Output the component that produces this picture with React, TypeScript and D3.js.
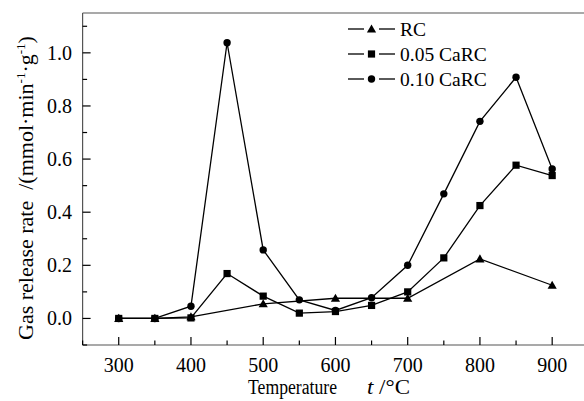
import React from "react";
import * as d3 from "d3";

const tempsRC = [300, 350, 400, 500, 600, 700, 800, 900];
const valuesRC = [0, 0, 0.006, 0.055, 0.076, 0.076, 0.224, 0.125];
const temps = [300, 350, 400, 450, 500, 550, 600, 650, 700, 750, 800, 850, 900];
const values005 = [0, 0, 0.002, 0.169, 0.084, 0.02, 0.026, 0.049, 0.1, 0.228, 0.425, 0.577, 0.538];
const values010 = [0, 0, 0.046, 1.038, 0.258, 0.07, 0.03, 0.078, 0.2, 0.469, 0.742, 0.908, 0.563];
const xTicks = [300, 400, 500, 600, 700, 800, 900];
const xMinor = [250, 350, 450, 550, 650, 750, 850];
const yTicks = [0, 0.2, 0.4, 0.6, 0.8, 1.0];
const yMinor = [-0.1, 0.1, 0.3, 0.5, 0.7, 0.9, 1.1];
const legendLabels = ["RC", "0.05 CaRC", "0.10 CaRC"];

const FONT = "'Liberation Serif', 'Times New Roman', serif";

function Marker({ type, x, y }: { type: string; x: number; y: number }) {
  if (type === "tri") {
    const s = 4.6;
    return <path d={`M${x},${y - s}L${x + s},${y + s * 0.75}L${x - s},${y + s * 0.75}Z`} fill="#000" />;
  }
  if (type === "sq") {
    return <rect x={x - 3.6} y={y - 3.6} width={7.2} height={7.2} fill="#000" />;
  }
  return <circle cx={x} cy={y} r={3.7} fill="#000" />;
}

export default function App() {
  const W = 584, H = 401;
  const left = 82.6, top = 13, bottom = 345;
  const x = d3.scaleLinear().domain([250, 950]).range([left, 588.3]);
  const y = d3.scaleLinear().domain([-0.1, 1.15]).range([bottom, top]);
  const line = d3.line<[number, number]>().x(d => x(d[0])).y(d => y(d[1]));
  const series = [
    { t: tempsRC, v: valuesRC, m: "tri" },
    { t: temps, v: values005, m: "sq" },
    { t: temps, v: values010, m: "circ" },
  ];
  const frame = "#555";
  return (
    <svg width={W} height={H} style={{ position: "absolute", left: 0, top: 0, background: "#fff" }}>
      <rect width={W} height={H} fill="#fff" />
      <g fill="none" stroke={frame} strokeWidth={1.2}>
        <line x1={left} x2={W + 10} y1={top} y2={top} />
        <line x1={left} x2={W + 10} y1={bottom} y2={bottom} />
        <line x1={left} x2={left} y1={top} y2={bottom} />
      </g>
      {xTicks.map(t => (
        <g key={"xt" + t}>
          <line x1={x(t)} x2={x(t)} y1={bottom} y2={bottom - 8} stroke="#000" strokeWidth={1.2} />
          <text x={x(t)} y={372} textAnchor="middle" fontFamily={FONT} fontSize={20}>{t}</text>
        </g>
      ))}
      {xMinor.map(t => (
        <line key={"xm" + t} x1={x(t)} x2={x(t)} y1={bottom} y2={bottom - 4.5} stroke="#000" strokeWidth={1.2} />
      ))}
      {yTicks.map(t => (
        <g key={"yt" + t}>
          <line x1={left} x2={left + 8} y1={y(t)} y2={y(t)} stroke="#000" strokeWidth={1.2} />
          <text x={72} y={y(t) + 6.8} textAnchor="end" fontFamily={FONT} fontSize={20}>{t.toFixed(1)}</text>
        </g>
      ))}
      {yMinor.map(t => (
        <line key={"ym" + t} x1={left} x2={left + 4.5} y1={y(t)} y2={y(t)} stroke="#000" strokeWidth={1.2} />
      ))}
      {series.map((s, i) => {
        const pts = s.t.map((t, j) => [t, s.v[j]] as [number, number]);
        return (
          <g key={"s" + i}>
            <path d={line(pts) || ""} fill="none" stroke="#000" strokeWidth={1.3} />
            {pts.map((p, j) => <Marker key={j} type={s.m} x={x(p[0])} y={y(p[1])} />)}
          </g>
        );
      })}
      {legendLabels.map((lab, i) => {
        const ly = 29 + i * 25;
        return (
          <g key={"lg" + i}>
            <line x1={348} x2={364} y1={ly} y2={ly} stroke="#000" strokeWidth={1.3} />
            <line x1={379} x2={395} y1={ly} y2={ly} stroke="#000" strokeWidth={1.3} />
            <Marker type={series[i].m} x={371.5} y={ly} />
            <text x={400} y={ly + 6.5} fontFamily={FONT} fontSize={19.5}>{lab}</text>
          </g>
        );
      })}
      <text transform="translate(33,340) rotate(-90)" textAnchor="start" fontFamily={FONT} fontSize={22}>
        Gas release rate{"\u00a0\u00a0"}/(mmol·min<tspan dy={-8} fontSize={13}>-1</tspan><tspan dy={8}>·g</tspan><tspan dy={-8} fontSize={13}>-1</tspan><tspan dy={8}>)</tspan>
      </text>
      <text x={248} y={394} fontFamily={FONT} fontSize={20} textLength={89} lengthAdjust="spacingAndGlyphs">Temperature</text>
      <text x={367} y={394} fontFamily={FONT} fontSize={20} textLength={43} lengthAdjust="spacingAndGlyphs"><tspan fontStyle="italic">t</tspan> /°C</text>
    </svg>
  );
}
